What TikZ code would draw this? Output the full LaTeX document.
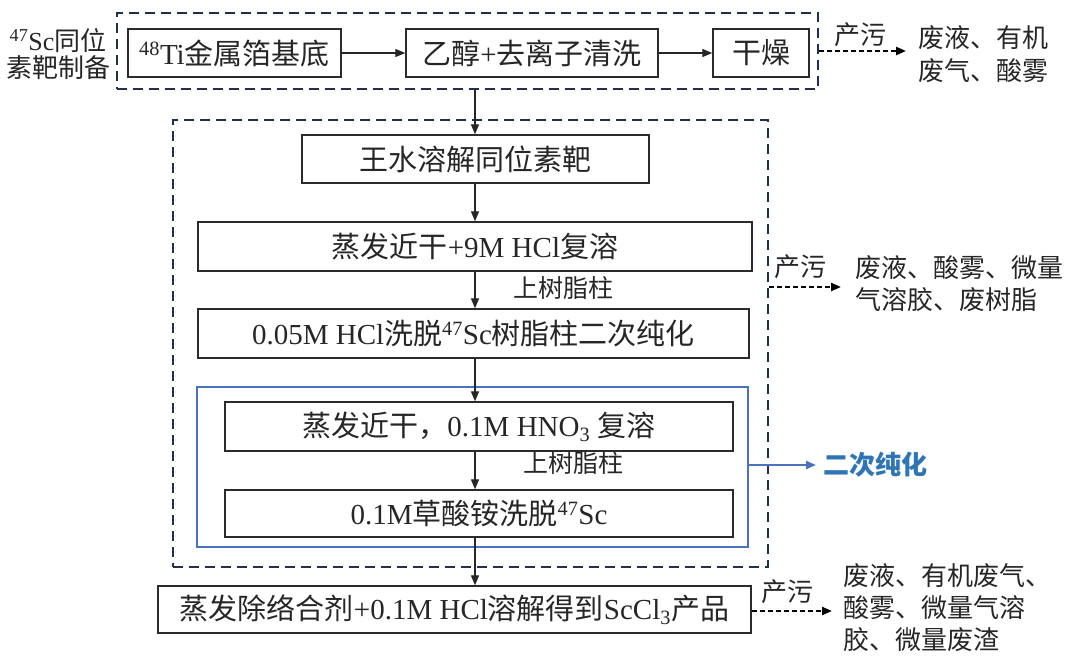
\documentclass[tikz,border=0pt]{standalone}
\usepackage{fontspec}
\setmainfont{Liberation Serif}
\newfontfamily\cjk{Noto Sans CJK SC}
\usetikzlibrary{arrows.meta}
\definecolor{dashc}{HTML}{1F2F4D}
\definecolor{boxc}{HTML}{2B2B2B}
\definecolor{txtc}{HTML}{262626}
\definecolor{bluec}{HTML}{4A72C0}
\definecolor{bluet}{HTML}{2E75B6}
\newcommand\zh[1]{{\cjk #1}}
\begin{document}
\begin{tikzpicture}[x=1pt,y=-1pt,
  stepbox/.style={draw=boxc, line width=1.4pt, minimum height=48pt, inner sep=0pt,
    font=\fontsize{29}{32}\selectfont, text=txtc},
  grp/.style={draw=dashc, line width=2.8pt, dash pattern=on 10pt off 6pt, inner sep=0pt},
  bluebox/.style={draw=bluec, line width=2pt, inner sep=0pt},
  arr/.style={-{Triangle[length=10pt,width=8pt]}, line width=1.3pt, draw=txtc, fill=txtc},
  darr/.style={-{Triangle[length=10pt,width=8pt]}, line width=2.2pt, dash pattern=on 5pt off 3pt, draw=black},
  barr/.style={-{Triangle[length=10pt,width=8pt]}, line width=2pt, draw=bluec},
  lbl/.style={inner sep=0pt, font=\fontsize{26}{33}\selectfont, text=txtc},
]
\useasboundingbox (0,0) rectangle (1070,656);

% group frames
\node[grp, minimum width=701pt, minimum height=76pt] (grp1) at (467.5,51) {};
\node[grp, minimum width=595pt, minimum height=447pt] (grp2) at (470.5,343.5) {};
\node[bluebox, minimum width=551pt, minimum height=160pt] (blue) at (472.5,467) {};

% top row
\node[stepbox, minimum width=213pt] (b1) at (234.5,53) {\textsuperscript{48}Ti\zh{金属箔基底}};
\node[stepbox, minimum width=252pt] (b2) at (532,53) {\zh{乙醇}+\zh{去离子清洗}};
\node[stepbox, minimum width=96pt] (b3) at (761,53) {\zh{干燥}};
\node[lbl, align=center, font=\fontsize{26}{27}\selectfont] (lab) at (58,54) {\textsuperscript{47}Sc\zh{同位}\\\zh{素靶制备}};

% middle column
\node[stepbox, minimum width=347pt] (b4) at (475.5,159) {\zh{王水溶解同位素靶}};
\node[stepbox, minimum width=554pt, minimum height=49pt] (b5) at (475,246.5) {\zh{蒸发近干}+9M HCl\zh{复溶}};
\node[stepbox, minimum width=551pt, minimum height=49pt] (b6) at (473.5,333.5) {0.05M HCl\zh{洗脱}\textsuperscript{47}Sc\zh{树脂柱二次纯化}};
\node[stepbox, minimum width=508pt, minimum height=49pt] (b7) at (479,426.5) {\zh{蒸发近干，}0.1M HNO\textsubscript{3} \zh{复溶}};
\node[stepbox, minimum width=508pt, minimum height=47pt] (b8) at (479,513.5) {0.1M\zh{草酸铵洗脱}\textsuperscript{47}Sc};
\node[stepbox, minimum width=593pt, minimum height=47pt] (b9) at (454.5,609.5) {\zh{蒸发除络合剂}+0.1M HCl\zh{溶解得到}ScCl\textsubscript{3}\zh{产品}};

% column labels
\node[lbl, font=\fontsize{25}{30}\selectfont] (r1) at (563,288) {\zh{上树脂柱}};
\node[lbl, font=\fontsize{25}{30}\selectfont] (r2) at (573,463) {\zh{上树脂柱}};

% flow arrows
\draw[arr] (b1) -- (b2);
\draw[arr] (b2) -- (b3);
\draw[arr] (grp1.south -| b5.north) -- (b5.north |- b4.north);
\draw[arr] (b4.south -| b5.north) -- (b5.north);
\draw[arr] (b5.south) -- (b5.south |- b6.north);
\draw[arr] (b6.south -| b5.south) -- (b5.south |- b7.north);
\draw[arr] (b7.south -| b5.south) -- (b5.south |- b8.north);
\draw[arr] (b8.south -| b5.south) -- (b5.south |- b9.north);

% pollution outputs
\coordinate (p1) at (906,51);
\coordinate (p2) at (841,287);
\coordinate (p3) at (832,611);
\coordinate (p4) at (816,465);
\draw[darr] (grp1.east) -- (p1);
\draw[darr] (grp2.east |- p2) -- (p2);
\draw[darr] (b9.east |- p3) -- (p3);
\draw[barr] (blue.east |- p4) -- (p4);

\node[lbl] (w1) at (860,35) {\zh{产污}};
\node[lbl] (w2) at (800,267) {\zh{产污}};
\node[lbl] (w3) at (787,592) {\zh{产污}};

\node[lbl, anchor=west, align=left] (o1) at (918,54) {\zh{废液、有机}\\\zh{废气、酸雾}};
\node[lbl, anchor=west, align=left, font=\fontsize{26}{32}\selectfont] (o2) at (855,284) {\zh{废液、酸雾、微量}\\\zh{气溶胶、废树脂}};
\node[lbl, anchor=west, align=left, font=\fontsize{26}{32}\selectfont] (o3) at (843,608) {\zh{废液、有机废气、}\\\zh{酸雾、微量气溶}\\\zh{胶、微量废渣}};
\node[inner sep=0pt, anchor=west, text=bluet, font=\fontsize{26}{30}\selectfont\bfseries] (o4) at (823,465) {\zh{二次纯化}};
\end{tikzpicture}
\end{document}
